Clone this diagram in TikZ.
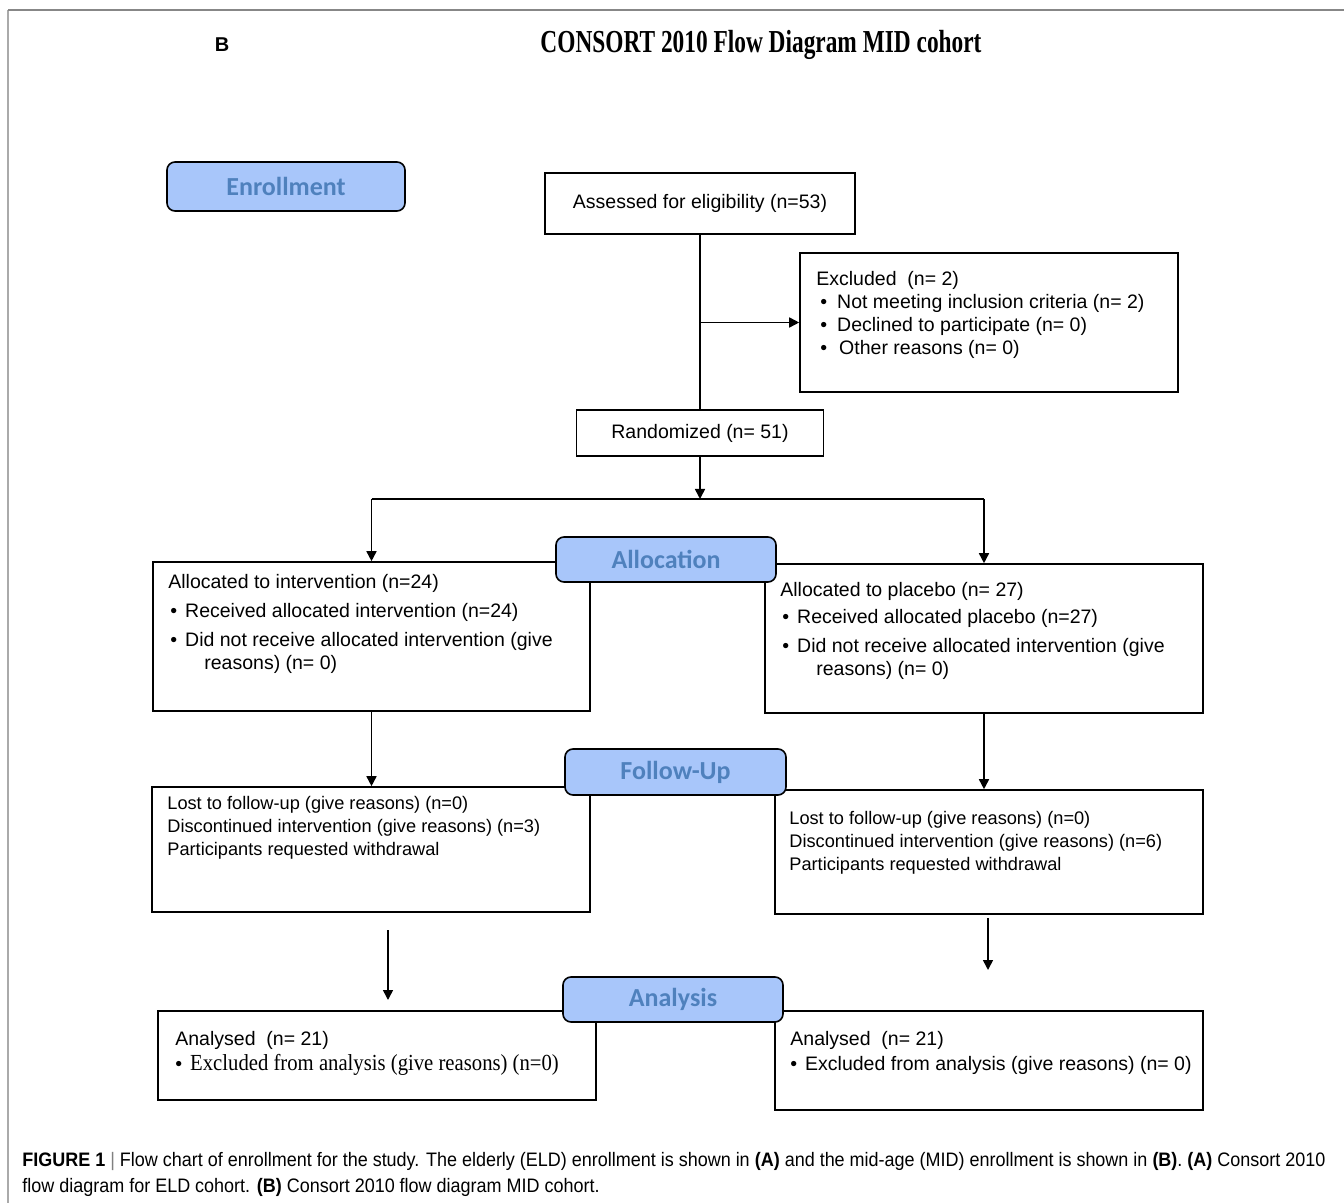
\documentclass[tikz,border=0pt]{standalone}
\usepackage{fontspec}
\setmainfont{Liberation Sans}
\newfontfamily\titlefont[FakeStretch=0.73]{Liberation Serif}
\newfontfamily\phasefont{Carlito}
\newfontfamily\capfont[FakeStretch=0.922]{Liberation Sans}
\newfontfamily\serifnarrow[FakeStretch=0.9]{Liberation Serif}
\usetikzlibrary{arrows.meta}

\definecolor{phasefill}{RGB}{168,198,250}
\definecolor{phasetext}{RGB}{79,129,189}
\definecolor{framegray}{RGB}{135,135,135}
\definecolor{frameleft}{RGB}{170,170,170}

\tikzset{
  flowbox/.style={draw, line width=0.8pt, inner sep=0pt, font=\fontsize{9.75}{11.5}\selectfont},
  phase/.style={draw, line width=0.8pt, fill=phasefill, rounded corners=4pt, text=phasetext,
    font=\phasefont\bfseries\fontsize{13}{14}\selectfont, minimum width=110pt, minimum height=22.5pt},
  boxtext/.style={anchor=north west, inner sep=0pt, align=left, font=\fontsize{9.75}{11.5}\selectfont},
  followtext/.style={boxtext, font=\fontsize{9.1}{11.5}\selectfont},
  flowarrow/.style={-{Triangle[length=5pt,width=5pt]}, line width=0.8pt},
}

\begin{document}
\begin{tikzpicture}[x=0.5pt, y=-0.5pt]
    \useasboundingbox (0,0) rectangle (1344,1203);
    % frame
    \draw[frameleft, line width=1pt] (8,1203) -- (8,10);
    \draw[framegray, line width=1pt] (8,10) -- (1344,10);
    \node (panel) at (222,45) {\bfseries\fontsize{10}{12}\selectfont B};
    \node (title) at (761,45) {\titlefont\bfseries\fontsize{16}{18}\selectfont CONSORT 2010 Flow Diagram MID cohort};

    % boxes
    \node[flowbox, minimum width=155pt, minimum height=30.5pt] (assess) at (700,203.5) {Assessed for eligibility (n=53)};
    \node[flowbox, minimum width=189pt, minimum height=69.5pt] (excl) at (989,322.5) {};
    \node[flowbox, minimum width=123.5pt, minimum height=23pt] (rand) at (700,433) {Randomized (n= 51)};
    \node[flowbox, minimum width=218.5pt, minimum height=74.5pt] (allocL) at (371.5,636.5) {};
    \node[flowbox, minimum width=219pt, minimum height=74.5pt] (allocR) at (984,638.5) {};
    \node[flowbox, minimum width=219pt, minimum height=62.5pt] (followL) at (371,849.5) {};
    \node[flowbox, minimum width=214pt, minimum height=62pt] (followR) at (989,852) {};
    \node[flowbox, minimum width=219pt, minimum height=44.5pt] (analL) at (377,1055.5) {};
    \node[flowbox, minimum width=214pt, minimum height=49.5pt] (analR) at (989,1060.5) {};

    % box texts
    \node[boxtext] (excl-t) at (816,271) {Excluded\ \ (n= 2)\\
      \hspace{2pt}\textbullet\hspace{5pt}Not meeting inclusion criteria (n= 2)\\
      \hspace{2pt}\textbullet\hspace{5pt}Declined to participate (n= 0)\\
      \hspace{2pt}\textbullet\hspace{6pt}Other reasons (n= 0)};
    \node[boxtext] (allocL-t) at (168,574) {Allocated to intervention (n=24)\\[3pt]
      \hspace{1pt}\textbullet\hspace{4pt}Received allocated intervention (n=24)\\[3pt]
      \hspace{1pt}\textbullet\hspace{4pt}Did not receive allocated intervention (give\\
      \hspace{18pt}reasons) (n= 0)};
    \node[boxtext] (allocR-t) at (780,582) {Allocated to placebo (n= 27)\\[2pt]
      \hspace{1pt}\textbullet\hspace{4pt}Received allocated placebo (n=27)\\[3pt]
      \hspace{1pt}\textbullet\hspace{4pt}Did not receive allocated intervention (give\\
      \hspace{18pt}reasons) (n= 0)};
    \node[followtext] (followL-t) at (167,796) {Lost to follow-up (give reasons) (n=0)\\
      Discontinued intervention (give reasons) (n=3)\\
      Participants requested withdrawal};
    \node[followtext] (followR-t) at (789,811) {Lost to follow-up (give reasons) (n=0)\\
      Discontinued intervention (give reasons) (n=6)\\
      Participants requested withdrawal};
    \node[boxtext] (analL-t) at (175,1031) {Analysed\ \ (n= 21)\\[1pt]
      \textbullet\hspace{4pt}{\serifnarrow\fontsize{11.5}{11.5}\selectfont Excluded from analysis (give reasons) (n=0)}};
    \node[boxtext] (analR-t) at (790,1031) {Analysed\ \ (n= 21)\\[1pt]
      \textbullet\hspace{4pt}Excluded from analysis (give reasons) (n= 0)};

    % connectors
    \coordinate (split) at (700,499);
    \draw[line width=0.8pt] (assess.south) -- (rand.north);
    \draw[flowarrow] (assess.south |- excl.west) -- (excl.west);
    \draw[flowarrow] (rand.south) -- (split);
    \draw[line width=0.8pt] (allocL.north |- split) -- (allocR.north |- split);
    \draw[flowarrow] (allocL.north |- split) -- (allocL.north);
    \draw[flowarrow] (allocR.north |- split) -- (allocR.north);
    \draw[flowarrow] (allocL.south) -- (allocL.south |- followL.north);
    \draw[flowarrow] (allocR.south) -- (allocR.south |- followR.north);
    \coordinate (fl-top) at (388,930);
    \coordinate (fl-end) at (388,1000);
    \coordinate (fr-top) at (988,918);
    \coordinate (fr-end) at (988,970);
    \draw[flowarrow] (fl-top) -- (fl-end);
    \draw[flowarrow] (fr-top) -- (fr-end);

    % phase labels
    \node[phase, minimum width=119pt, minimum height=24.5pt] (enrol) at (286,186.5) {Enrollment};
    \node[phase] (alloc) at (666,559.5) {Allocation};
    \node[phase, minimum width=110.5pt, minimum height=23pt] (follow) at (675.5,772) {Follow-Up};
    \node[phase] (anal) at (673,999.5) {Analysis};

    % caption
    \node[anchor=north west, inner sep=0pt, align=left, font=\capfont\fontsize{9.75}{13}\selectfont] (caption) at (22,1152)
      {\textbf{FIGURE 1} {\color{gray}|} Flow chart of enrollment for the study. The elderly (ELD) enrollment is shown in \textbf{(A)} and the mid-age (MID) enrollment is shown in \textbf{(B)}. \textbf{(A)} Consort 2010\\
      flow diagram for ELD cohort. \textbf{(B)} Consort 2010 flow diagram MID cohort.};
  \end{tikzpicture}
\end{document}
